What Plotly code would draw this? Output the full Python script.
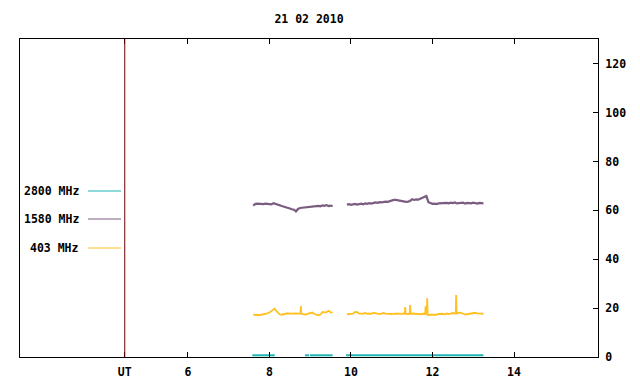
import plotly.graph_objects as go

# ---------------- data ----------------
title_text = "21 02 2010"
x_tick_vals = [6, 8, 10, 12, 14]
x_tick_text = ["6", "8", "10", "12", "14"]
ut_pos = 4.45
y_tick_vals = [0, 20, 40, 60, 80, 100, 120]
series_names = ["2800 MHz", "1580 MHz", "403 MHz"]

# 1580 MHz (two segments, sampled every 0.05 h)
t1580_a_start = 7.60
v1580_a = [62.0, 62.6, 62.8, 62.7, 62.9, 62.6, 62.8, 62.7, 62.9, 62.5,
           63.0, 62.6, 62.2, 62.1, 61.8, 61.6, 61.5, 61.1, 60.8, 60.5,
           60.3, 59.6, 60.6, 61.0, 61.1, 61.4, 61.3, 61.6, 61.8, 61.6,
           61.9, 61.8, 61.9, 61.7, 62.1, 61.9, 62.2, 61.8, 62.0, 61.7]
t1580_b_start = 9.90
v1580_b = [62.4, 62.6, 62.3, 62.5, 62.7, 62.4, 62.6, 62.8, 62.5, 62.9,
           62.7, 63.0, 62.8, 63.1, 63.3, 63.1, 63.4, 63.3, 63.5, 63.6,
           63.5, 63.8, 64.2, 64.3, 64.3, 64.1, 63.8, 63.6, 63.7, 63.5,
           63.6, 63.9, 64.6, 64.3, 64.5, 64.4, 64.8, 65.1, 65.5, 65.9,
           63.4, 63.0, 62.7, 62.8, 62.6, 62.9, 63.0, 63.2, 63.0, 63.1,
           62.9, 63.2, 63.0, 63.3, 62.9, 63.1, 63.0, 63.2, 62.8, 63.1,
           63.0, 62.9, 63.2, 63.0, 62.8, 63.1, 63.0, 62.9]
step_1580 = 0.05

# 403 MHz
t403 = [7.60, 7.65, 7.70, 7.75, 7.80, 7.85, 7.90, 7.95, 8.00, 8.05,
        8.10, 8.13, 8.15, 8.20, 8.25, 8.30, 8.35, 8.40, 8.45, 8.50,
        8.55, 8.60, 8.65, 8.70, 8.76, 8.77, 8.78, 8.85, 8.90, 8.95,
        9.00, 9.05, 9.10, 9.15, 9.20, 9.25, 9.30, 9.35, 9.40, 9.45,
        9.50, 9.55, None,
        9.90, 9.95, 10.00, 10.05, 10.10, 10.15, 10.20, 10.25, 10.30, 10.35,
        10.40, 10.45, 10.50, 10.55, 10.60, 10.65, 10.70, 10.75, 10.80, 10.85,
        10.90, 10.95, 11.00, 11.05, 11.10, 11.15, 11.20, 11.25, 11.32, 11.33,
        11.34, 11.40, 11.44, 11.45, 11.46, 11.50, 11.55, 11.60, 11.65, 11.70,
        11.75, 11.80, 11.82, 11.83, 11.84, 11.86, 11.87, 11.88, 11.95, 12.00,
        12.05, 12.10, 12.15, 12.20, 12.25, 12.30, 12.35, 12.40, 12.45, 12.50,
        12.57, 12.58, 12.59, 12.65, 12.70, 12.75, 12.80, 12.85, 12.90, 12.95,
        13.00, 13.05, 13.10, 13.15, 13.20, 13.25]
v403 = [17.5, 17.2, 17.3, 17.1, 17.3, 17.4, 17.6, 17.9, 18.2, 18.8,
        19.6, 19.8, 19.2, 18.2, 17.5, 17.3, 17.6, 17.8, 17.9, 17.8,
        17.9, 17.8, 17.9, 17.8, 17.8, 20.9, 17.7, 17.5, 17.4, 17.8,
        17.9, 18.2, 17.6, 17.2, 17.1, 17.4, 18.4, 18.3, 18.4, 18.9,
        18.3, 18.2, None,
        17.5, 17.7, 17.6, 17.8, 18.5, 18.4, 17.8, 17.7, 17.8, 18.0,
        17.7, 17.8, 17.7, 18.1, 17.9, 17.7, 17.6, 17.8, 18.0, 17.8,
        17.7, 17.8, 17.6, 17.8, 17.7, 17.8, 17.7, 17.8, 17.7, 20.4,
        17.7, 17.6, 17.7, 21.3, 17.7, 17.8, 17.7, 17.6, 17.8, 17.5,
        17.7, 17.4, 17.6, 20.8, 18.0, 17.5, 24.0, 17.2, 17.3, 17.2,
        17.4, 17.3, 17.6, 17.8, 17.7, 17.5, 17.8, 17.6, 17.9, 18.0,
        17.8, 25.4, 17.8, 18.2, 18.1, 17.8, 17.4, 17.5, 17.7, 17.8,
        18.0, 18.1, 17.9, 17.8, 17.8, 17.7]

# 2800 MHz (near zero)
t2800 = [7.58, 8.13, None, 8.87, 8.97, None, 8.99, 9.55, None, 9.88, 13.25]
v2800 = [0.7, 0.7, None, 0.7, 0.7, None, 0.7, 0.7, None, 0.7, 0.7]

colors = {"2800 MHz": "#1fb5b5", "1580 MHz": "#7a5c80", "403 MHz": "#ffc020"}

# ---------------- build ----------------
t1580 = ([round(t1580_a_start + step_1580 * i, 2) for i in range(len(v1580_a))] + [None] +
         [round(t1580_b_start + step_1580 * i, 2) for i in range(len(v1580_b))])
v1580 = v1580_a + [None] + v1580_b

font_family = "DejaVu Sans Mono"
fig = go.Figure()
fig.add_trace(go.Scatter(x=t2800, y=v2800, mode="lines", name=series_names[0],
                         line=dict(color=colors["2800 MHz"], width=2), connectgaps=False))
fig.add_trace(go.Scatter(x=t1580, y=v1580, mode="lines", name=series_names[1],
                         line=dict(color=colors["1580 MHz"], width=2.2), connectgaps=False))
fig.add_trace(go.Scatter(x=t403, y=v403, mode="lines", name=series_names[2],
                         line=dict(color=colors["403 MHz"], width=1.8), connectgaps=False))

OFF = 8  # page body offset of the figure
W, H = 640, 384
# desired plot area in page pixels: x 20..598, y 39..357
L = 20 - OFF
T = 39 - OFF
R = W - (598 - OFF)
B = H - (357 - OFF)
pw, ph = W - L - R, H - T - B

def px2paper_x(px):
    return (px - OFF - L) / pw

def px2paper_y(py):
    return (H - B - (py - OFF)) / ph

# manual legend (text left of sample line, like the original)
legend_rows = [191, 219, 248]
for name, py in zip(series_names, legend_rows):
    fig.add_annotation(x=px2paper_x(81), y=px2paper_y(py), xref="paper", yref="paper",
                       text=name, showarrow=False, xanchor="right", yanchor="middle",
                       font=dict(family=font_family, size=11.5, color="black", weight="bold"))
    fig.add_shape(type="line", xref="paper", yref="paper",
                  x0=px2paper_x(88), x1=px2paper_x(121),
                  y0=px2paper_y(py), y1=px2paper_y(py),
                  line=dict(color=colors[name], width=1))

# UT marker line
fig.add_shape(type="line", xref="x", yref="paper", x0=ut_pos, x1=ut_pos, y0=0, y1=1,
              line=dict(color="#6a0000", width=1))

fig.update_layout(
    width=W, height=H, autosize=False,
    margin=dict(l=L, r=R, t=T, b=B, autoexpand=False),
    paper_bgcolor="white", plot_bgcolor="white",
    showlegend=False,
    font=dict(family=font_family, size=11.5, color="black", weight="bold"),
    title=dict(text=title_text, x=px2paper_x(309), xref="paper", xanchor="center",
               y=1 - (19 - OFF) / H, yanchor="middle", yref="container", automargin=False,
               font=dict(family=font_family, size=11.5, color="black", weight="bold")),
)
fig.update_xaxes(range=[1.88, 16.06], tickvals=[ut_pos] + x_tick_vals,
                 ticktext=["UT"] + x_tick_text, ticks="inside", ticklen=5,
                 tickcolor="black", showline=True, linecolor="black", linewidth=1,
                 mirror="ticks", showgrid=False, zeroline=False, ticklabelstandoff=4,
                 automargin=False)
fig.update_yaxes(range=[0, 130.2], tickvals=y_tick_vals, side="right",
                 ticks="inside", ticklen=5, tickcolor="black",
                 showline=True, linecolor="black", linewidth=1, mirror=True,
                 showgrid=False, zeroline=False, ticklabelstandoff=4,
                 automargin=False)

fig.write_html("out.html")
